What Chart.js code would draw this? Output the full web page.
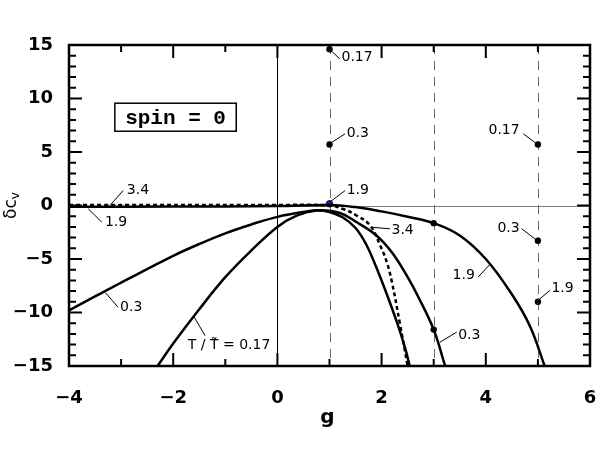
<!DOCTYPE html>
<html><head><meta charset="utf-8">
<script src="https://cdn.jsdelivr.net/npm/chart.js@4"></script>
<style>html,body{margin:0;padding:0;background:#fff}canvas{display:block}</style>
</head><body>
<canvas id="c" width="599" height="463"></canvas>
<script>
// ---- data ----
const xTicks = [-4, -2, 0, 2, 4, 6];
const yTicks = [-15, -10, -5, 0, 5, 10, 15];

const g_017  = [-2.3, -2, -1.5, -1, -0.5, 0, 0.37, 0.75, 1.0, 1.25, 1.5, 1.7, 1.9, 2.1, 2.3, 2.45, 2.54];
const dc_017 = [-15, -12.9, -9.7, -6.7, -4.2, -2.0, -0.95, -0.47, -0.6, -1.1, -2.1, -3.6, -5.8, -8.3, -11.0, -13.3, -15];

const g_03  = [-4, -3.5, -3, -2.5, -2, -1.5, -1, -0.5, 0, 0.5, 0.8, 1.2, 1.5, 1.9, 2.2, 2.5, 2.7, 3, 3.22];
const dc_03 = [-9.8, -8.5, -7.2, -5.95, -4.7, -3.6, -2.6, -1.77, -1.06, -0.6, -0.45, -0.7, -1.5, -2.8, -4.4, -6.7, -8.5, -11.6, -15];

const g_19  = [-4, -2, 0, 1, 1.5, 2, 2.5, 3, 3.5, 4, 4.5, 4.85, 5.13];
const dc_19 = [-0.12, -0.1, -0.05, 0.05, -0.15, -0.55, -1.05, -1.65, -2.8, -5.0, -8.3, -11.3, -15];

const g_34  = [-4, 0, 1, 1.3, 1.52, 1.78, 1.97, 2.1, 2.2, 2.35, 2.5];
const dc_34 = [0.05, 0.05, 0, -0.4, -0.93, -1.87, -3.7, -5.3, -7.2, -11.0, -15];

const ptsG  = [1, 1, 3, 3, 5, 5, 5];
const ptsDc = [14.6, 5.7, -1.65, -11.6, 5.7, -3.3, -9.0];
const blueG  = [1];
const blueDc = [0.16];

const dashedRefG = [1, 3, 5];

// annotation texts with leader lines (data coordinates)
const notes = [
  {t:'3.4',  from:[-3.215, 0],    to:[-2.96, 1.4],    at:[-2.89, 1.4],   al:'left'},
  {t:'1.9',  from:[-3.63, -0.31], to:[-3.37, -1.56],  at:[-3.31, -1.6],  al:'left'},
  {t:'0.3',  from:[-3.3, -8.15],  to:[-3.06, -9.5],   at:[-3.02, -9.55], al:'left'},
  {t:'T / T\u0303 = 0.17', from:[-1.6, -10.4], to:[-1.39, -12.15], at:[-1.72, -13.1], al:'left'},
  {t:'0.17', from:[1.0, 14.6],    to:[1.2, 13.7],     at:[1.23, 13.86],  al:'left'},
  {t:'0.3',  from:[1.0, 5.77],    to:[1.3, 6.7],      at:[1.33, 6.7],    al:'left'},
  {t:'1.9',  from:[1.0, 0.3],     to:[1.3, 1.4],      at:[1.33, 1.4],    al:'left'},
  {t:'0.17', from:[4.72, 6.7],    to:[4.94, 5.9],     at:[4.65, 7.0],    al:'right'},
  {t:'3.4',  from:[1.81, -2.03],  to:[2.16, -2.18],   at:[2.19, -2.34],  al:'left'},
  {t:'0.3',  from:[4.69, -2.18],  to:[4.94, -3.11],   at:[4.65, -2.18],  al:'right'},
  {t:'1.9',  from:[5.23, -7.94],  to:[5.0, -8.88],    at:[5.26, -7.78],  al:'left'},
  {t:'1.9',  from:[3.85, -6.7],   to:[4.08, -5.5],    at:[3.79, -6.54],  al:'right'},
  {t:'0.3',  from:[3.12, -12.78], to:[3.44, -11.84],  at:[3.47, -12.15], al:'left'}
];
const boxText = 'spin = 0';
const boxRect = [-3.12, 9.56, -0.79, 6.94];

const zip = (a, b) => a.map((v, i) => ({x: v, y: b[i]}));

const curve = (g, c, dash) => ({
  data: zip(g, c), showLine: true, borderColor: '#000', borderWidth: 2.5,
  borderDash: dash || [], pointRadius: 0, tension: 0.4, fill: false
});

const deco = {
  id: 'deco',
  beforeDatasetsDraw(chart) {
    const {ctx, chartArea: a, scales: {x, y}} = chart;
    ctx.save();
    ctx.lineWidth = 1;
    ctx.strokeStyle = '#808080';
    const py0 = Math.round(y.getPixelForValue(0)) + 0.5;
    ctx.beginPath(); ctx.moveTo(a.left, py0); ctx.lineTo(a.right, py0); ctx.stroke();
    ctx.strokeStyle = '#000';
    const px0 = Math.round(x.getPixelForValue(0)) + 0.5;
    ctx.beginPath(); ctx.moveTo(px0, a.top); ctx.lineTo(px0, a.bottom); ctx.stroke();
    ctx.strokeStyle = '#6a6a6a';
    ctx.setLineDash([9, 7]);
    dashedRefG.forEach(g => {
      const px = Math.round(x.getPixelForValue(g)) + 0.5;
      ctx.beginPath(); ctx.moveTo(px, a.top); ctx.lineTo(px, a.bottom); ctx.stroke();
    });
    ctx.restore();
  },
  afterDatasetsDraw(chart) {
    const {ctx, chartArea: a, scales: {x, y}} = chart;
    ctx.save();
    // ticks (inside, all sides)
    ctx.strokeStyle = '#000'; ctx.lineWidth = 2;
    for (let g = x.min; g <= x.max; g += 1) {
      const px = x.getPixelForValue(g);
      const L = xTicks.includes(g) ? 13 : 7;
      ctx.beginPath();
      ctx.moveTo(px, a.bottom); ctx.lineTo(px, a.bottom - L);
      ctx.moveTo(px, a.top); ctx.lineTo(px, a.top + L);
      ctx.stroke();
    }
    for (let v = y.min; v <= y.max; v += 1) {
      const py = y.getPixelForValue(v);
      const L = yTicks.includes(v) ? 13 : 7;
      ctx.beginPath();
      ctx.moveTo(a.left, py); ctx.lineTo(a.left + L, py);
      ctx.moveTo(a.right, py); ctx.lineTo(a.right - L, py);
      ctx.stroke();
    }
    // border
    ctx.lineWidth = 2.5;
    ctx.strokeRect(a.left, a.top, a.right - a.left, a.bottom - a.top);

    // notes
    ctx.lineWidth = 1;
    ctx.fillStyle = '#000';
    ctx.font = '14px "DejaVu Sans"';
    ctx.textBaseline = 'middle';
    notes.forEach(n => {
      ctx.beginPath();
      ctx.moveTo(x.getPixelForValue(n.from[0]), y.getPixelForValue(n.from[1]));
      ctx.lineTo(x.getPixelForValue(n.to[0]), y.getPixelForValue(n.to[1]));
      ctx.stroke();
      ctx.textAlign = n.al;
      ctx.fillText(n.t, x.getPixelForValue(n.at[0]), y.getPixelForValue(n.at[1]));
    });

    // spin box
    const bx0 = x.getPixelForValue(boxRect[0]), by0 = y.getPixelForValue(boxRect[1]);
    const bx1 = x.getPixelForValue(boxRect[2]), by1 = y.getPixelForValue(boxRect[3]);
    ctx.lineWidth = 1.5;
    ctx.strokeRect(bx0, by0, bx1 - bx0, by1 - by0);
    ctx.font = 'bold 21px "Liberation Mono"';
    ctx.textAlign = 'center';
    ctx.fillText(boxText, (bx0 + bx1) / 2, (by0 + by1) / 2 + 1);

    // axis titles
    ctx.font = 'bold 20px "DejaVu Sans"';
    ctx.textAlign = 'center';
    ctx.textBaseline = 'alphabetic';
    ctx.fillText('g', (a.left + a.right) / 2 - 2, a.bottom + 57);

    ctx.translate(16, y.getPixelForValue(0));
    ctx.rotate(-Math.PI / 2);
    ctx.font = '17px "DejaVu Sans"';
    ctx.textAlign = 'left';
    const w1 = ctx.measureText('\u03b4c').width;
    ctx.font = '12px "DejaVu Sans"';
    const w2 = ctx.measureText('v').width;
    const x0 = -(w1 + w2) / 2;
    ctx.font = '17px "DejaVu Sans"';
    ctx.fillText('\u03b4c', x0, 0);
    ctx.font = '12px "DejaVu Sans"';
    ctx.fillText('v', x0 + w1, 3);
    ctx.restore();
  }
};

const minus = v => (v < 0 ? '\u2212' + Math.abs(v) : String(v));

new Chart(document.getElementById('c'), {
  type: 'scatter',
  data: {
    datasets: [
      curve(g_017, dc_017),
      curve(g_03, dc_03),
      curve(g_19, dc_19),
      curve(g_34, dc_34, [4, 3]),
      {data: zip(ptsG, ptsDc), pointRadius: 3.2, pointBackgroundColor: '#000', pointBorderColor: '#000', pointBorderWidth: 0, showLine: false},
      {data: zip(blueG, blueDc), pointRadius: 3.2, pointBackgroundColor: '#1a1ad0', pointBorderColor: '#000', pointBorderWidth: 1, showLine: false}
    ]
  },
  options: {
    responsive: false, animation: false, devicePixelRatio: 1,
    layout: {padding: {top: 45, right: 9, left: 0, bottom: 0}},
    plugins: {legend: {display: false}, tooltip: {enabled: false}},
    scales: {
      x: {
        type: 'linear', min: -4, max: 6,
        afterBuildTicks: s => { s.ticks = xTicks.map(v => ({value: v})); },
        afterFit: s => { s.height = 97; s.paddingLeft = 0; s.paddingRight = 0; },
        grid: {display: false, drawTicks: false}, border: {display: false},
        ticks: {padding: 22, color: '#000', font: {family: 'DejaVu Sans', weight: 'bold', size: 18}, callback: minus, maxRotation: 0, autoSkip: false}
      },
      y: {
        type: 'linear', min: -15, max: 15,
        afterBuildTicks: s => { s.ticks = yTicks.map(v => ({value: v})); },
        afterFit: s => { s.width = 69; s.paddingTop = 0; s.paddingBottom = 0; },
        grid: {display: false, drawTicks: false}, border: {display: false},
        ticks: {padding: 16, color: '#000', font: {family: 'DejaVu Sans', weight: 'bold', size: 18}, callback: minus, autoSkip: false}
      }
    }
  },
  plugins: [deco]
});
</script>
</body></html>
